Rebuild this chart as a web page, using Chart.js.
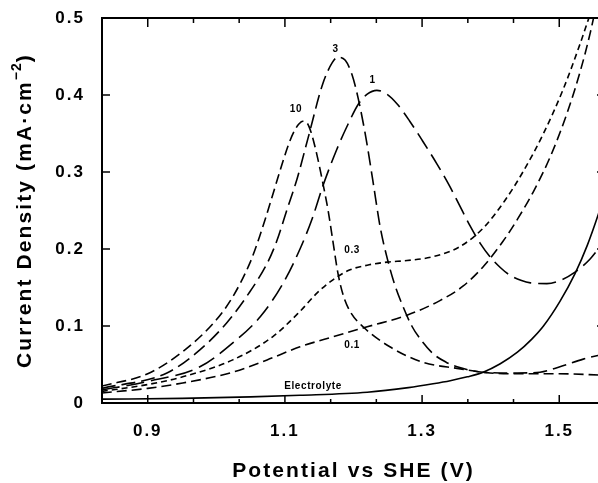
<!DOCTYPE html>
<html>
<head>
<meta charset="utf-8">
<script src="https://cdn.jsdelivr.net/npm/chart.js@4.4.1/dist/chart.umd.min.js"></script>
<style>
  html, body { margin: 0; padding: 0; background: #fff; overflow: hidden; }
  #wrap { width: 620px; height: 483px; position: relative; }
</style>
</head>
<body>
<div id="wrap"><canvas id="chart"></canvas></div>
<script>
// Tick positions (V and mA/cm2)
const xMajorTicks = [0.9, 1.1, 1.3, 1.5];
const xMinorTicks = [0.9667, 1.0333, 1.1667, 1.2333, 1.3667, 1.4333];
const yTicks = [0, 0.1, 0.2, 0.3, 0.4, 0.5];

// Curve "10"
const potential10 = [0.833, 0.90, 0.95, 1.00, 1.024, 1.049, 1.063, 1.078, 1.093, 1.105, 1.113, 1.120, 1.126, 1.132, 1.138, 1.147, 1.155, 1.163, 1.170, 1.177, 1.185, 1.195, 1.214, 1.253, 1.301, 1.351, 1.399, 1.447, 1.497, 1.567];
const current10 = [0.022, 0.038, 0.066, 0.108, 0.138, 0.182, 0.216, 0.258, 0.302, 0.335, 0.352, 0.362, 0.366, 0.364, 0.352, 0.321, 0.287, 0.250, 0.210, 0.170, 0.140, 0.119, 0.099, 0.073, 0.053, 0.045, 0.039, 0.038, 0.038, 0.036];

// Curve "3"
const potential3 = [0.833, 0.928, 0.976, 1.015, 1.047, 1.075, 1.088, 1.103, 1.118, 1.134, 1.155, 1.169, 1.177, 1.188, 1.198, 1.207, 1.218, 1.228, 1.239, 1.250, 1.260, 1.270, 1.285, 1.300, 1.316, 1.335, 1.351, 1.389, 1.439, 1.472, 1.501, 1.535, 1.567];
const current3 = [0.019, 0.039, 0.069, 0.104, 0.142, 0.183, 0.210, 0.251, 0.292, 0.345, 0.414, 0.442, 0.449, 0.445, 0.426, 0.395, 0.345, 0.290, 0.228, 0.185, 0.154, 0.130, 0.100, 0.080, 0.064, 0.053, 0.047, 0.040, 0.039, 0.040, 0.047, 0.057, 0.064];

// Curve "1"
const potential1 = [0.833, 0.90, 0.976, 1.024, 1.064, 1.097, 1.122, 1.140, 1.155, 1.175, 1.192, 1.207, 1.220, 1.234, 1.249, 1.264, 1.282, 1.301, 1.322, 1.340, 1.355, 1.370, 1.385, 1.399, 1.414, 1.428, 1.445, 1.458, 1.482, 1.501, 1.523, 1.545, 1.567];
const current1 = [0.017, 0.028, 0.047, 0.078, 0.112, 0.155, 0.200, 0.240, 0.281, 0.328, 0.362, 0.388, 0.401, 0.406, 0.401, 0.388, 0.366, 0.340, 0.310, 0.282, 0.256, 0.230, 0.207, 0.190, 0.176, 0.166, 0.159, 0.156, 0.155, 0.159, 0.170, 0.187, 0.212];

// Curve "0.3"
const potential03 = [0.833, 0.90, 0.951, 1.024, 1.082, 1.122, 1.147, 1.170, 1.195, 1.220, 1.249, 1.278, 1.316, 1.355, 1.390, 1.420, 1.447, 1.477, 1.506, 1.531, 1.545, 1.556];
const current03 = [0.015, 0.024, 0.034, 0.056, 0.086, 0.119, 0.143, 0.160, 0.173, 0.179, 0.183, 0.185, 0.190, 0.203, 0.228, 0.262, 0.300, 0.350, 0.408, 0.468, 0.505, 0.535];

// Curve "0.1"
const potential01 = [0.833, 0.90, 0.951, 1.024, 1.074, 1.122, 1.170, 1.220, 1.278, 1.326, 1.360, 1.390, 1.418, 1.440, 1.462, 1.487, 1.512, 1.531, 1.545, 1.556];
const current01 = [0.013, 0.019, 0.026, 0.040, 0.056, 0.073, 0.086, 0.099, 0.114, 0.133, 0.152, 0.178, 0.210, 0.240, 0.274, 0.320, 0.378, 0.432, 0.480, 0.525];

// Electrolyte only
const potentialEl = [0.833, 0.95, 1.05, 1.122, 1.220, 1.280, 1.316, 1.341, 1.366, 1.389, 1.414, 1.439, 1.460, 1.477, 1.501, 1.523, 1.541, 1.557, 1.567];
const currentEl = [0.005, 0.006, 0.008, 0.010, 0.014, 0.020, 0.025, 0.029, 0.034, 0.040, 0.051, 0.066, 0.083, 0.100, 0.132, 0.168, 0.205, 0.245, 0.273];

const curveNames = ['10', '3', '1', '0.3', '0.1', 'Electrolyte'];

function pts(xs, ys) {
    return xs.map((v, i) => ({ x: v, y: ys[i] }));
}

// where each curve name is written (data units)
const labelSpots = [
    { x: 1.116, y: 0.381 },
    { x: 1.174, y: 0.460 },
    { x: 1.228, y: 0.419 },
    { x: 1.198, y: 0.199 },
    { x: 1.198, y: 0.075 },
    { x: 1.141, y: 0.022 }
];

const dashes = [[10, 5], [14, 6], [18, 7], [6, 4], [10, 5], []];
const series = [
    pts(potential10, current10),
    pts(potential3, current3),
    pts(potential1, current1),
    pts(potential03, current03),
    pts(potential01, current01),
    pts(potentialEl, currentEl)
];

const FONT = "'Liberation Sans', Arial, sans-serif";

const framePlugin = {
    id: 'frame',
    beforeDraw(chart) {
        chart.ctx.letterSpacing = '2px';
    },
    afterDatasetsDraw(chart) {
        const { ctx, chartArea: a, scales: { x, y } } = chart;
        ctx.save();
        ctx.strokeStyle = '#000';
        ctx.lineWidth = 2;
        ctx.strokeRect(a.left, a.top, a.right - a.left, a.bottom - a.top);

        ctx.lineWidth = 1.5;
        ctx.beginPath();
        xMajorTicks.forEach(v => {
            const px = x.getPixelForValue(v);
            ctx.moveTo(px, a.bottom); ctx.lineTo(px, a.bottom - 8);
            ctx.moveTo(px, a.top); ctx.lineTo(px, a.top + 9);
        });
        xMinorTicks.forEach(v => {
            const px = x.getPixelForValue(v);
            ctx.moveTo(px, a.bottom); ctx.lineTo(px, a.bottom - 4);
            ctx.moveTo(px, a.top); ctx.lineTo(px, a.top + 5);
        });
        yTicks.slice(1, -1).forEach(v => {
            const py = y.getPixelForValue(v);
            ctx.moveTo(a.left, py); ctx.lineTo(a.left + 8, py);
            ctx.moveTo(a.right, py); ctx.lineTo(a.right - 8, py);
        });
        ctx.stroke();

        // curve names
        ctx.fillStyle = '#000';
        ctx.textAlign = 'center';
        ctx.textBaseline = 'middle';
        ctx.letterSpacing = '0.6px';
        ctx.font = 'bold 10px ' + FONT;
        curveNames.forEach((t, i) => {
            ctx.fillText(t, x.getPixelForValue(labelSpots[i].x), y.getPixelForValue(labelSpots[i].y));
        });

        // axis titles
        ctx.letterSpacing = '2.1px';
        ctx.font = 'bold 21px ' + FONT;
        ctx.fillText('Potential vs SHE (V)', (a.left + a.right) / 2, 471);

        ctx.translate(25, (a.top + a.bottom) / 2);
        ctx.rotate(-Math.PI / 2);
        const main = 'Current Density (mA\u00B7cm';
        const w1 = ctx.measureText(main).width;
        ctx.font = 'bold 14px ' + FONT;
        ctx.letterSpacing = '1px';
        const sup = '\u22122';
        const w2 = ctx.measureText(sup).width;
        ctx.font = 'bold 21px ' + FONT;
        ctx.letterSpacing = '2.1px';
        const w3 = ctx.measureText(')').width;
        const sx = -(w1 + w2 + w3) / 2;
        ctx.textAlign = 'left';
        ctx.fillText(main, sx, 0);
        ctx.font = 'bold 14px ' + FONT;
        ctx.letterSpacing = '1px';
        ctx.fillText(sup, sx + w1, -8);
        ctx.font = 'bold 21px ' + FONT;
        ctx.letterSpacing = '2.1px';
        ctx.fillText(')', sx + w1 + w2, 0);
        ctx.restore();
    }
};

new Chart(document.getElementById('chart'), {
    type: 'line',
    data: {
        datasets: series.map((d, i) => ({
            label: curveNames[i],
            data: d,
            borderColor: '#000',
            borderWidth: 1.6,
            borderDash: dashes[i],
            pointRadius: 0,
            fill: false,
            cubicInterpolationMode: 'monotone'
        }))
    },
    options: {
        responsive: true,
        maintainAspectRatio: false,
        animation: false,
        layout: { padding: { top: 18, right: 15, left: 0, bottom: 0 } },
        plugins: { legend: { display: false }, tooltip: { enabled: false } },
        scales: {
            x: {
                type: 'linear',
                min: 0.8333,
                max: 1.5667,
                grid: { display: false, drawTicks: false },
                border: { display: false },
                afterBuildTicks: s => { s.ticks = xMajorTicks.map(v => ({ value: v })); },
                afterFit: s => { s.height = 80; s.paddingLeft = 0; s.paddingRight = 0; },
                ticks: {
                    padding: 18,
                    color: '#000',
                    font: { family: FONT, size: 17, weight: 'bold' },
                    maxRotation: 0,
                    callback: v => v.toFixed(1)
                }
            },
            y: {
                min: 0,
                max: 0.5,
                grid: { display: false, drawTicks: false },
                border: { display: false },
                afterBuildTicks: s => { s.ticks = yTicks.map(v => ({ value: v })); },
                afterFit: s => { s.width = 102; s.paddingTop = 0; s.paddingBottom = 0; },
                ticks: {
                    padding: 17,
                    color: '#000',
                    font: { family: FONT, size: 17, weight: 'bold' },
                    callback: v => (v === 0 ? '0' : v.toFixed(1))
                }
            }
        }
    },
    plugins: [framePlugin]
});
</script>
</body>
</html>
